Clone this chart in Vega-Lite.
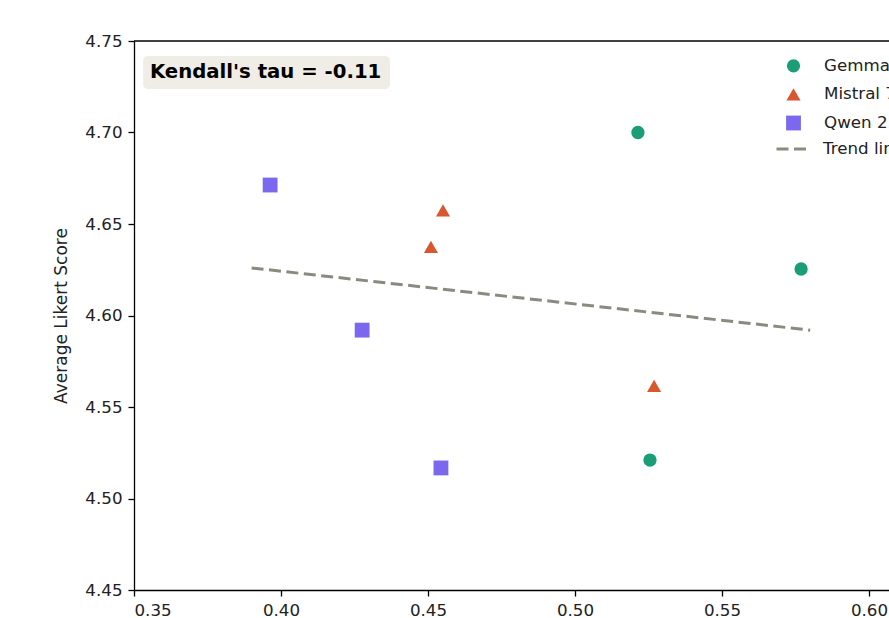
{
  "$schema": "https://vega.github.io/schema/vega-lite/v6.json",
  "width": 755,
  "height": 549,
  "autosize": {"type": "none"},
  "padding": {"left": 134, "top": 41, "right": 0, "bottom": 28},
  "config": {
    "font": "DejaVu Sans",
    "view": {"stroke": null},
    "axis": {"grid": false, "domainColor": "#000000", "tickColor": "#000000", "labelColor": "#222222", "labelFontSize": 16.7, "tickSize": 6, "domainWidth": 1.3, "tickWidth": 1.3, "labelPadding": 6, "titleColor": "#222222", "titleFontSize": 17, "titleFontWeight": "normal"},
    "legend": {"labelFontSize": 16.7, "labelColor": "#222222", "labelLimit": 400, "padding": 0}
  },
  "datasets": {
    "points": [
      {"model": "Gemma 2 9B", "kendall": 0.5214, "likert": 4.700},
      {"model": "Gemma 2 9B", "kendall": 0.5769, "likert": 4.6254},
      {"model": "Gemma 2 9B", "kendall": 0.5255, "likert": 4.521},
      {"model": "Mistral 7B", "kendall": 0.4551, "likert": 4.6575},
      {"model": "Mistral 7B", "kendall": 0.4510, "likert": 4.6375},
      {"model": "Mistral 7B", "kendall": 0.5269, "likert": 4.5615},
      {"model": "Qwen 2.5 7B", "kendall": 0.3963, "likert": 4.6713},
      {"model": "Qwen 2.5 7B", "kendall": 0.4276, "likert": 4.592},
      {"model": "Qwen 2.5 7B", "kendall": 0.4544, "likert": 4.5167}
    ],
    "trend": [
      {"label": "Trend line", "kendall": 0.39, "likert": 4.626},
      {"label": "Trend line", "kendall": 0.58, "likert": 4.592}
    ],
    "note": [
      {"text": "Kendall's tau = -0.11", "x1": 0.3531, "x2": 0.4371, "y1": 4.7418, "y2": 4.7238, "tx": 0.3554, "ty": 4.7328}
    ],
    "frame": [
      {"top": 4.75}
    ]
  },
  "layer": [
    {
      "data": {"name": "note"},
      "mark": {"type": "rect", "fill": "#f0ede6", "cornerRadius": 5},
      "encoding": {
        "x": {"field": "x1", "type": "quantitative", "scale": {"domain": [0.35, 0.6068], "nice": false, "zero": false}, "axis": {"title": null, "values": [0.35, 0.4, 0.45, 0.5, 0.55, 0.6], "format": ".2f"}},
        "x2": {"field": "x2"},
        "y": {"field": "y1", "type": "quantitative", "scale": {"domain": [4.45, 4.75], "nice": false, "zero": false}, "axis": {"title": "Average Likert Score", "values": [4.45, 4.5, 4.55, 4.6, 4.65, 4.7, 4.75], "format": ".2f", "titlePadding": 14}},
        "y2": {"field": "y2"}
      }
    },
    {
      "data": {"name": "note"},
      "mark": {"type": "text", "align": "left", "baseline": "middle", "fontSize": 19.7, "fontWeight": "bold", "color": "#000000"},
      "encoding": {
        "x": {"field": "tx", "type": "quantitative"},
        "y": {"field": "ty", "type": "quantitative"},
        "text": {"field": "text"}
      }
    },
    {
      "data": {"name": "frame"},
      "mark": {"type": "rule", "color": "#000000", "strokeWidth": 1.3},
      "encoding": {
        "y": {"field": "top", "type": "quantitative"}
      }
    },
    {
      "data": {"name": "trend"},
      "mark": {"type": "line", "color": "#888b7e", "strokeWidth": 3},
      "encoding": {
        "x": {"field": "kendall", "type": "quantitative"},
        "y": {"field": "likert", "type": "quantitative"},
        "strokeDash": {"field": "label", "type": "nominal", "scale": {"range": [[12, 5.5]]}, "legend": {"title": null, "orient": "none", "legendX": 641, "legendY": 90, "symbolType": "stroke", "symbolSize": 1089, "symbolStrokeWidth": 3, "symbolStrokeColor": "#888b7e", "labelOffset": 12}}
      }
    },
    {
      "data": {"name": "points"},
      "mark": {"type": "point", "filled": true, "opacity": 1},
      "encoding": {
        "x": {"field": "kendall", "type": "quantitative"},
        "y": {"field": "likert", "type": "quantitative"},
        "color": {"field": "model", "type": "nominal", "scale": {"domain": ["Gemma 2 9B", "Mistral 7B", "Qwen 2.5 7B"], "range": ["#1b9e77", "#d9572c", "#7b68ee"]}, "legend": {"title": null, "orient": "none", "legendX": 651, "legendY": 16.5, "symbolSize": 180, "labelOffset": 22, "rowPadding": 10.5}},
        "shape": {"field": "model", "type": "nominal", "scale": {"domain": ["Gemma 2 9B", "Mistral 7B", "Qwen 2.5 7B"], "range": ["circle", "triangle-up", "square"]}},
        "size": {"field": "model", "type": "nominal", "scale": {"domain": ["Gemma 2 9B", "Mistral 7B", "Qwen 2.5 7B"], "range": [177, 220, 256]}, "legend": null}
      }
    }
  ]
}
